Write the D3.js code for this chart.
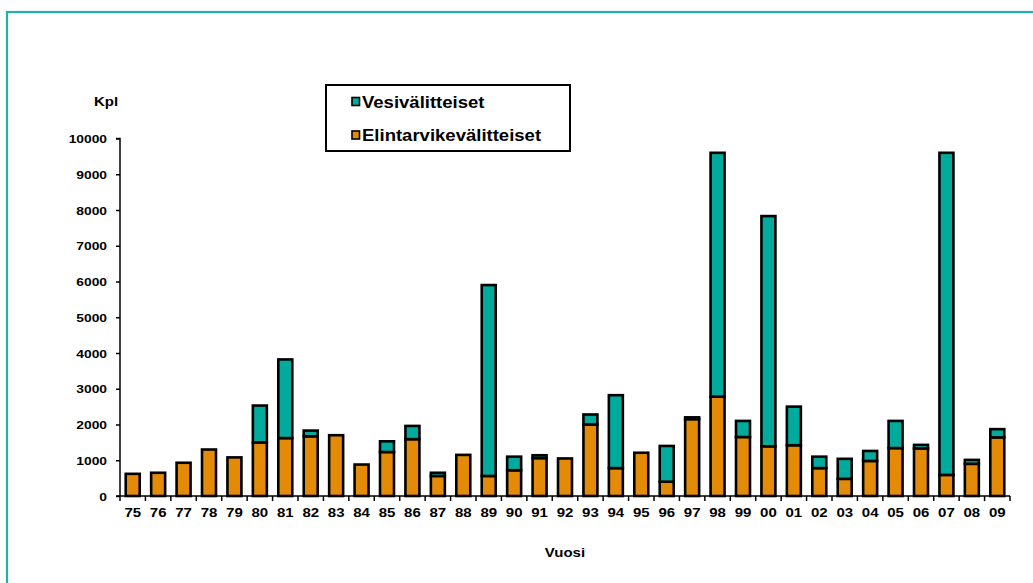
<!DOCTYPE html>
<html>
<head>
<meta charset="utf-8">
<script src="https://cdn.jsdelivr.net/npm/d3@7"></script>
<style>
  html, body { margin: 0; padding: 0; background: #fff; }
  svg { display: block; font-family: Arial, "Liberation Sans", sans-serif; }
</style>
</head>
<body>
<svg id="chart" width="1033" height="583"></svg>
<script>
// Annual counts by year, split by transmission route
const years = ["75","76","77","78","79","80","81","82","83","84","85","86","87","88","89","90","91","92","93","94","95","96","97","98","99","00","01","02","03","04","05","06","07","08","09"];
const foodborne = [620,650,930,1300,1080,1500,1620,1670,1700,880,1230,1590,560,1150,560,720,1060,1050,2000,780,1210,400,2150,2780,1650,1390,1420,780,480,980,1340,1330,590,900,1640];
const waterborne = [0,0,0,0,0,1030,2200,160,0,0,300,370,90,0,5340,380,80,0,280,2040,0,1000,50,6820,450,6440,1080,320,560,280,760,100,9010,110,230];
const seriesNames = ["Elintarvikevälitteiset", "Vesivälitteiset"];
const yTicks = [0,1000,2000,3000,4000,5000,6000,7000,8000,9000,10000];

const colors = { "Elintarvikevälitteiset": "#E38B06", "Vesivälitteiset": "#00AA9C" };

const svg = d3.select("#chart");

// outer frame
svg.append("rect")
  .attr("x", 7).attr("y", 12)
  .attr("width", 1060).attr("height", 620)
  .attr("fill", "none")
  .attr("stroke", "#1DB3AA")
  .attr("stroke-width", 2.2);

const plot = { left: 120, right: 1010, top: 138.5, bottom: 496 };

const x = d3.scaleBand().domain(years).range([plot.left, plot.right]).paddingInner(0.45).paddingOuter(0.225);
const y = d3.scaleLinear().domain([0, 10000]).range([plot.bottom, plot.top]);

const rows = years.map((yr, i) => ({ year: yr, "Elintarvikevälitteiset": foodborne[i], "Vesivälitteiset": waterborne[i] }));
const stack = d3.stack().keys(seriesNames)(rows);

// bars
const g = svg.append("g");
stack.forEach(layer => {
  g.selectAll(null)
    .data(layer.filter(d => d[1] - d[0] > 0))
    .enter().append("rect")
    .attr("x", d => x(d.data.year))
    .attr("y", d => y(d[1]))
    .attr("width", x.bandwidth())
    .attr("height", d => y(d[0]) - y(d[1]))
    .attr("fill", colors[layer.key])
    .attr("stroke", "#000")
    .attr("stroke-width", 2.6);
});

const sxTick = 1.2;

// y axis
const yAxis = svg.append("g").attr("transform", `translate(${plot.left},0)`)
  .call(d3.axisLeft(y).tickValues(yTicks).tickSize(4).tickPadding(0).tickFormat(d3.format("d")));
yAxis.select(".domain").attr("stroke", "#000").attr("stroke-width", 1.5).attr("d", `M-4,${plot.top}H0V${plot.bottom}`);
yAxis.selectAll(".tick line").attr("stroke", "#000").attr("stroke-width", 1.5);
yAxis.selectAll(".tick text")
  .attr("x", null).attr("dy", null)
  .attr("font-size", 11.5).attr("font-weight", "bold").attr("fill", "#000")
  .attr("text-anchor", "end")
  .attr("transform", `translate(-13,4) scale(${sxTick},1)`);

// x axis
const xAxis = svg.append("g").attr("transform", `translate(0,${plot.bottom})`)
  .call(d3.axisBottom(x).tickSize(0).tickPadding(0));
xAxis.select(".domain").attr("stroke", "#000").attr("stroke-width", 1.5).attr("d", `M${plot.left - 4},0H${plot.right}`);
xAxis.selectAll(".tick text")
  .attr("y", null).attr("dy", null)
  .attr("font-size", 12).attr("font-weight", "bold").attr("fill", "#000")
  .attr("transform", `translate(0,21) scale(1.25,1)`);
// category boundary ticks
const step = x.step();
xAxis.selectAll(".bnd")
  .data(d3.range(years.length + 1))
  .enter().append("line")
  .attr("x1", i => plot.left + i * step).attr("x2", i => plot.left + i * step)
  .attr("y1", 0).attr("y2", 5)
  .attr("stroke", "#000").attr("stroke-width", 1.5);

// axis titles
svg.append("text").text("Kpl")
  .attr("font-size", 12.5).attr("font-weight", "bold")
  .attr("text-anchor", "middle")
  .attr("transform", `translate(106,106) scale(1.2,1)`);
svg.append("text").text("Vuosi")
  .attr("font-size", 12.5).attr("font-weight", "bold")
  .attr("text-anchor", "middle")
  .attr("transform", `translate(565,557) scale(1.2,1)`);

// legend
const legend = svg.append("g");
legend.append("rect")
  .attr("x", 326).attr("y", 85).attr("width", 244).attr("height", 66)
  .attr("fill", "#fff").attr("stroke", "#000").attr("stroke-width", 2);
const legendItems = ["Vesivälitteiset", "Elintarvikevälitteiset"];
legendItems.forEach((name, i) => {
  const cy = 101.5 + i * 33.5;
  legend.append("rect")
    .attr("x", 352).attr("y", cy - 4).attr("width", 7.5).attr("height", 8)
    .attr("fill", colors[name]).attr("stroke", "#000").attr("stroke-width", 1.6);
  legend.append("text").text(name)
    .attr("font-size", 17).attr("font-weight", "bold").attr("fill", "#000")
    .attr("transform", `translate(362,${cy + 6}) scale(1.09,1)`);
});
</script>
</body>
</html>
